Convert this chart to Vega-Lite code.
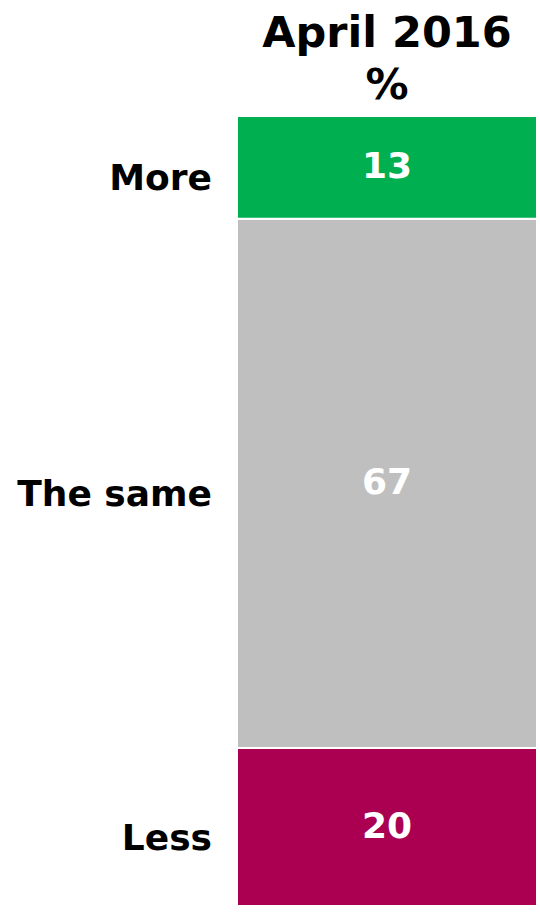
{
  "$schema": "https://vega.github.io/schema/vega-lite/v6.json",
  "width": 300,
  "height": 790,
  "autosize": {"type": "none"},
  "padding": {"left": 237, "top": 116, "right": 3, "bottom": 8},
  "background": "white",
  "config": {"view": {"stroke": null}, "font": "DejaVu Sans"},
  "title": {
    "text": ["April 2016", "%"],
    "fontSize": 43,
    "font": "DejaVu Sans",
    "fontWeight": "bold",
    "lineHeight": 52,
    "anchor": "middle",
    "offset": 7,
    "color": "black"
  },
  "data": {
    "values": [
      {"period": "April 2016", "response": "Less", "value": 20, "ord": 1},
      {"period": "April 2016", "response": "The same", "value": 67, "ord": 2},
      {"period": "April 2016", "response": "More", "value": 13, "ord": 3}
    ]
  },
  "transform": [
    {"stack": "value", "groupby": ["period"], "sort": [{"field": "ord"}], "as": ["y0", "y1"]},
    {"calculate": "(datum.y0 + datum.y1) / 2", "as": "mid"}
  ],
  "encoding": {
    "x": {"field": "period", "type": "nominal", "scale": {"paddingInner": 0, "paddingOuter": 0}, "axis": null}
  },
  "layer": [
    {
      "mark": {"type": "bar", "stroke": "white", "strokeWidth": 2},
      "encoding": {
        "y": {"field": "y0", "type": "quantitative", "scale": {"domain": [0, 100]}, "axis": null},
        "y2": {"field": "y1"},
        "color": {
          "field": "response",
          "type": "nominal",
          "scale": {"domain": ["More", "The same", "Less"], "range": ["#00b050", "#bfbfbf", "#ab0051"]},
          "legend": null
        }
      }
    },
    {
      "mark": {"type": "text", "color": "white", "fontSize": 36, "fontWeight": "bold"},
      "encoding": {
        "y": {"field": "mid", "type": "quantitative"},
        "text": {"field": "value"}
      }
    },
    {
      "mark": {"type": "text", "align": "right", "fontSize": 36, "fontWeight": "bold", "color": "black", "dx": -175, "dy": 12},
      "encoding": {
        "y": {"field": "mid", "type": "quantitative"},
        "text": {"field": "response"}
      }
    }
  ]
}
